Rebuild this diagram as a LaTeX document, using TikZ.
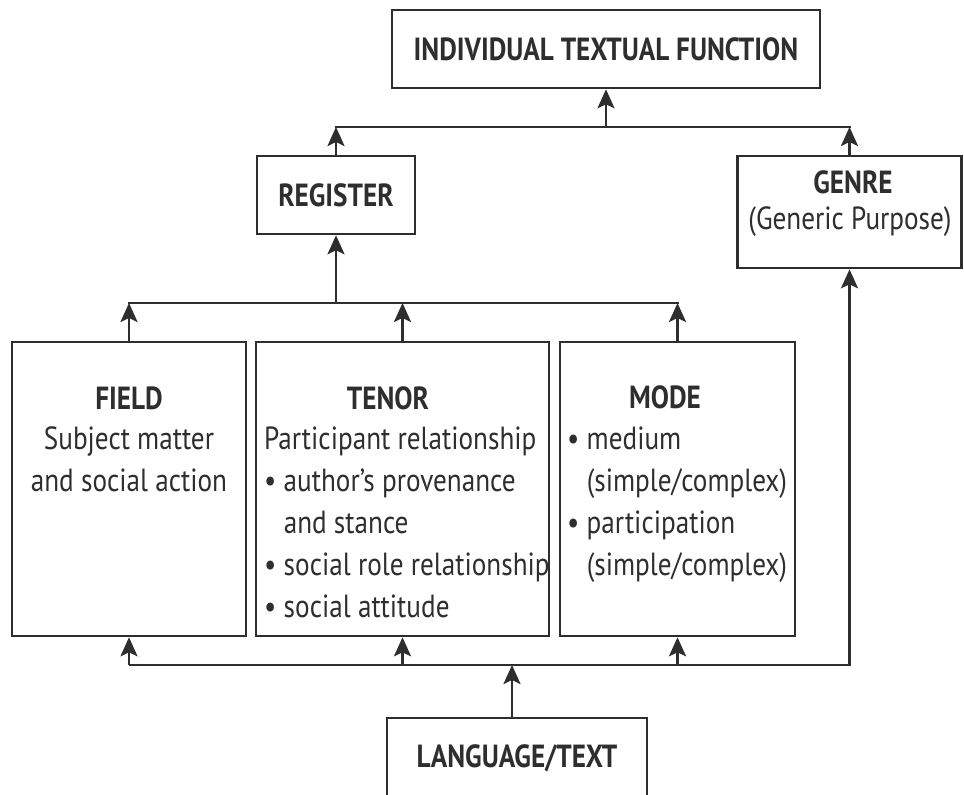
\documentclass[tikz,border=0pt]{standalone}
\usepackage{fontspec}
\setmainfont{PT Sans}[FakeStretch=0.85]
\usetikzlibrary{arrows.meta,positioning}
\definecolor{ink}{HTML}{2E2E2E}
\newcommand{\topline}{\rule{0pt}{25pt}}
\newcommand{\hang}{\phantom{\textbullet\ }}
\tikzset{
    box/.style n args={2}{
        draw=ink,
        line width=2.6pt,
        minimum width={#1},
        minimum height={#2},
        inner sep=0pt
    },
    ttl/.style={font=\bfseries\fontsize{32}{42}\selectfont, text=ink, inner sep=0pt},
    txt/.style={font=\fontsize{32}{42}\selectfont, text=ink, inner sep=0pt},
    bus/.style={draw=ink, line width=2.6pt, line cap=rect},
    up/.style={draw=ink, line width=2.6pt, -{Stealth[length=19pt,width=17pt,inset=4pt]}}
}

\begin{document}
\begin{tikzpicture}[x=1pt,y=-1pt]
    \useasboundingbox (0,0) rectangle (964,795);
    \node[box={428}{78},ttl] (itf) at (606,49) {INDIVIDUAL TEXTUAL FUNCTION};
    \node[box={158}{78},ttl] (reg) at (336,195) {REGISTER};
    \node[box={224}{112}] (genre) at (849.5,212) {};
    \node[ttl,anchor=base] (genrettl) at (853,193) {GENRE};
    \node[txt,anchor=base] (genretxt) at (850,229) {(Generic Purpose)};
    \node[box={234}{294}] (field) at (129,489) {};
    \node[box={293}{294}] (tenor) at (402.5,489) {};
    \node[box={235}{294}] (mode) at (677.5,489) {};
    \node[box={260}{80},ttl] (lang) at (517,758) {LANGUAGE/TEXT};

    \node[ttl,anchor=base] (fieldttl) at (129,409) {FIELD};
    \node[txt,anchor=north,align=center] (fieldtxt) at (129,424)
        {\topline Subject matter\\and social action};
    \node[ttl,anchor=base] (tenorttl) at (388,409) {TENOR};
    \node[txt,anchor=north west,align=left] (tenortxt) at (264,424)
        {\topline Participant relationship\\
         \textbullet\ author's provenance\\
         \hang and stance\\
         \textbullet\ social role relationship\\
         \textbullet\ social attitude};
    \node[ttl,anchor=base] (modettl) at (665,408) {MODE};
    \node[txt,anchor=north west,align=left] (modetxt) at (567,424)
        {\topline\textbullet\ medium\\
         \hang(simple/complex)\\
         \textbullet\ participation\\
         \hang(simple/complex)};

    \coordinate (topbus) at (0,127);
    \coordinate (midbus) at (0,303);
    \coordinate (lowbus) at (0,665);

    \draw[bus] (reg.north |- topbus) -- (genre.north |- topbus);
    \draw[up] (reg.north) -- (reg.north |- topbus);
    \draw[up] (genre.north) -- (genre.north |- topbus);
    \draw[up] (itf.south |- topbus) -- (itf.south);

    \draw[bus] (field.north |- midbus) -- (mode.north |- midbus);
    \foreach \n in {field,tenor,mode}
        \draw[up] (\n.north) -- (\n.north |- midbus);
    \draw[up] (reg.south |- midbus) -- (reg.south);

    \draw[up] (field.south |- lowbus) -- (genre.south |- lowbus) -- (genre.south);
    \foreach \n in {field,tenor,mode}
        \draw[up] (\n.south |- lowbus) -- (\n.south);
    \draw[up] ([xshift=-5pt]lang.north) -- ([xshift=-5pt]lang.north |- lowbus);
\end{tikzpicture}
\end{document}
